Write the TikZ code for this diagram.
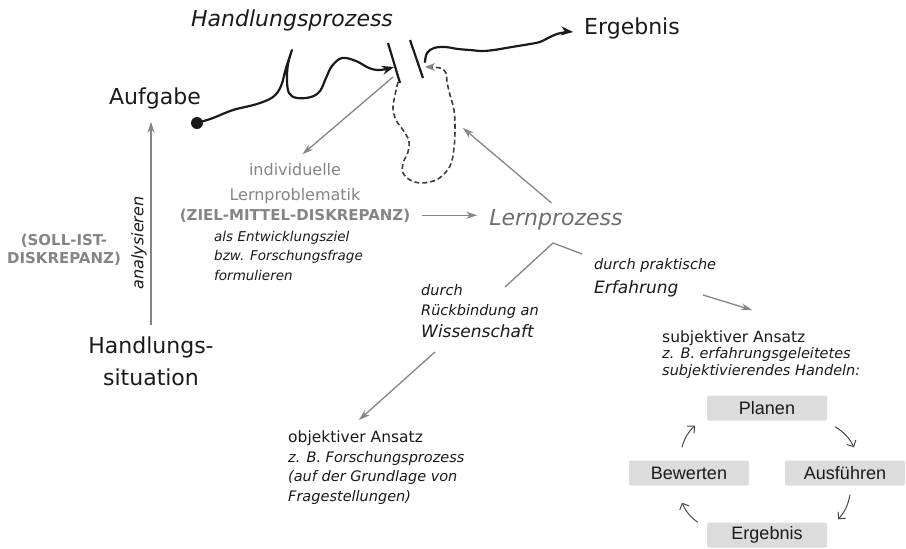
\documentclass[tikz,border=0pt]{standalone}
\usepackage{fontspec}
\setmainfont{DejaVu Sans}
\newfontfamily\arialfont{Liberation Sans}
\usepackage{tikz}
\usetikzlibrary{arrows.meta,calc}
\definecolor{dunkel}{HTML}{1A1A1A}
\definecolor{grau}{HTML}{858585}
\definecolor{lerngrau}{HTML}{6E6E6E}
\definecolor{kastengrau}{HTML}{DCDCDC}
\tikzset{
  gross/.style={font=\fontsize{22}{32}\selectfont,text=dunkel,inner sep=2pt},
  grossit/.style={font=\fontsize{22}{32}\selectfont\itshape,text=dunkel,inner sep=2pt},
  mittel/.style={font=\fontsize{16}{25}\selectfont,text=grau,align=center,inner sep=2pt},
  fett/.style={font=\fontsize{15}{18}\selectfont\bfseries,text=grau,align=center,inner sep=2pt},
  klein/.style={font=\fontsize{14.5}{20}\selectfont\itshape,text=dunkel,align=left,inner sep=2pt},
  ansatz/.style={font=\fontsize{15.5}{20}\selectfont,text=dunkel,inner sep=2pt},
  kasten/.style={fill=kastengrau,rounded corners=2pt,minimum width=120pt,minimum height=25pt,
    inner sep=0pt,font=\arialfont\fontsize{18}{20}\selectfont,text=dunkel},
  pfad/.style={draw=dunkel,line width=2.2pt,line join=round,line cap=round,
    -{Stealth[length=12pt,width=9pt]}},
  balken/.style={draw=dunkel,line width=2.2pt},
  blase/.style={draw=dunkel!85,line width=1.6pt,dash pattern=on 5pt off 3pt,
    -{Stealth[length=10pt,width=8pt,color=grau,fill=grau]}},
  gpfeil/.style={draw=grau,line width=1.3pt,-{Stealth[length=11pt,width=7pt]}},
  strich/.style={draw=grau,line width=1.3pt},
  kpfeil/.style={draw=dunkel!80,line width=1pt,-{Straight Barb[length=5pt,width=10pt]}},
}
\begin{document}
\begin{tikzpicture}[x=1pt,y=-1pt]
  \useasboundingbox (0,0) rectangle (906,549);
  \node[gross,anchor=base] (aufgabe) at (155,104) {Aufgabe};
  \node[grossit,anchor=base] (hprozess) at (292,26) {Handlungsprozess};
  \node[gross,anchor=base] (ergebnis) at (632,34) {Ergebnis};
  \node[gross,anchor=base,align=center] (hsit) at (151,385) {Handlungs-\\situation};
  \node[fett,anchor=base] (sollist) at (64,263) {(SOLL-IST-\\DISKREPANZ)};
  \node[klein,font=\fontsize{16}{20}\selectfont\itshape,rotate=90] (analys) at (139,243) {analysieren};
  \node[mittel,anchor=base] (indiv) at (295,200) {individuelle\\Lernproblematik};
  \node[fett,anchor=base] (ziel) at (295,220) {(ZIEL-MITTEL-DISKREPANZ)};
  \node[klein,font=\fontsize{13.5}{19.5}\selectfont\itshape,anchor=base west] (formul) at (212,280)
    {als Entwicklungsziel\\bzw. Forschungsfrage\\formulieren};
  \node[grossit,text=lerngrau,anchor=base] (lernp) at (556,225) {Lernprozess};
  \node[klein,anchor=base west] (rueck) at (419,315) {durch\\Rückbindung an};
  \node[klein,font=\fontsize{17}{20}\selectfont\itshape,anchor=base west] (wiss) at (419,337) {Wissenschaft};
  \node[klein,anchor=base west] (prakt) at (592,269) {durch praktische};
  \node[klein,font=\fontsize{17}{20}\selectfont\itshape,anchor=base west] (erf) at (592,293) {Erfahrung};
  \node[ansatz,anchor=base west] (subj) at (660,342) {subjektiver Ansatz};
  \node[klein,font=\fontsize{14.5}{17}\selectfont\itshape,anchor=base west] (subjz) at (660,375)
    {z. B. erfahrungsgeleitetes\\subjektivierendes Handeln:};
  \node[ansatz,anchor=base west] (obj) at (286,442) {objektiver Ansatz};
  \node[klein,font=\fontsize{14.5}{19.5}\selectfont\itshape,anchor=base west] (objz) at (286,501)
    {z. B. Forschungsprozess\\(auf der Grundlage von\\Fragestellungen)};

  \node[kasten] (planen) at (767,408) {Planen};
  \node[kasten] (bewerten) at (689,473) {Bewerten};
  \node[kasten] (ausf) at (845,473) {Ausführen};
  \node[kasten] (erg) at (767,535) {Ergebnis};

  \node[circle,fill=dunkel,minimum size=12pt,inner sep=0pt] (start) at (197,123) {};
  \coordinate (b1o) at (388,43); \coordinate (b1u) at (400,83);
  \coordinate (b2o) at (410,40); \coordinate (b2u) at (423,78);
  \coordinate (b1m) at (394,67); \coordinate (b1a) at (393,77);
  \coordinate (b2m) at (425,62); \coordinate (b2a) at (425,67);
  \coordinate (blobr) at (463,128);
  \coordinate (brR) at (582,254); \coordinate (brC) at (553,243); \coordinate (brL) at (505,287);
  \coordinate (wA) at (435,352);
  \coordinate (erfA) at (703,295); \coordinate (subjA) at (752,310);

  \draw[balken] (b1o) -- (b1u);
  \draw[balken] (b2o) -- (b2u);
  \draw[pfad] (start.center) plot[smooth,tension=0.6] coordinates {(197,123) (213,118) (233,110) (257,104)
      (273,97) (281,86) (286,68) (292,50)}
    plot[smooth,tension=0.6] coordinates {(292,50) (288,64) (287,80) (289,93) (297,98) (311,97) (320,91)
      (326,78) (332,66) (342,58) (356,61) (369,68) (380,70) (b1m)};
  \draw[pfad] (b2m) plot[smooth,tension=0.6] coordinates {(b2m) (427,53) (434,48) (445,47) (458,49)
      (470,50) (482,51) (494,50) (506,48) (518,46) (530,44) (540,42) (548,38)
      (557,34) (567,32) ($(ergebnis.west)+(-9,4)$)};
  \draw[blase] plot[smooth,tension=0.6] coordinates {(398,82) (395,95) (393,108) (396,120) (403,130)
      (409,141) (408,152) (403,163) (403,173) (410,180) (422,183) (438,179) (450,166) (454,148)
      (455,128) (454,110) (450,95) (447,82) (446,73) (440,68) (b2a)};

  \draw[gpfeil,shorten >=10pt] (b1a) -- (indiv.north);
  \draw[gpfeil,shorten <=6pt] (lernp.north) -- (blobr);
  \draw[gpfeil,shorten <=10pt,shorten >=10pt] (ziel.east) -- (ziel.east -| lernp.west);
  \draw[gpfeil,shorten <=9pt,shorten >=11pt] (hsit.north) -- (hsit.north |- aufgabe.south);
  \draw[strich] (brR) -- (brC) -- (brL);
  \draw[gpfeil,shorten >=12pt] (wA) -- (obj.120);
  \draw[gpfeil] (erfA) -- (subjA);

  \draw[kpfeil] ($(planen.south east)+(8,6)$) to[bend left=15] ($(ausf.north)+(9,-13)$);
  \draw[kpfeil] ($(ausf.south)+(5,9)$) to[bend left=15] ($(erg.north east)+(11,-3)$);
  \draw[kpfeil] ($(erg.north west)+(-9,0)$) to[bend left=15] ($(bewerten.south)+(-7,17)$);
  \draw[kpfeil] ($(bewerten.north)+(-7,-13)$) to[bend left=15] ($(planen.south west)+(-12,5)$);
\end{tikzpicture}
\end{document}
